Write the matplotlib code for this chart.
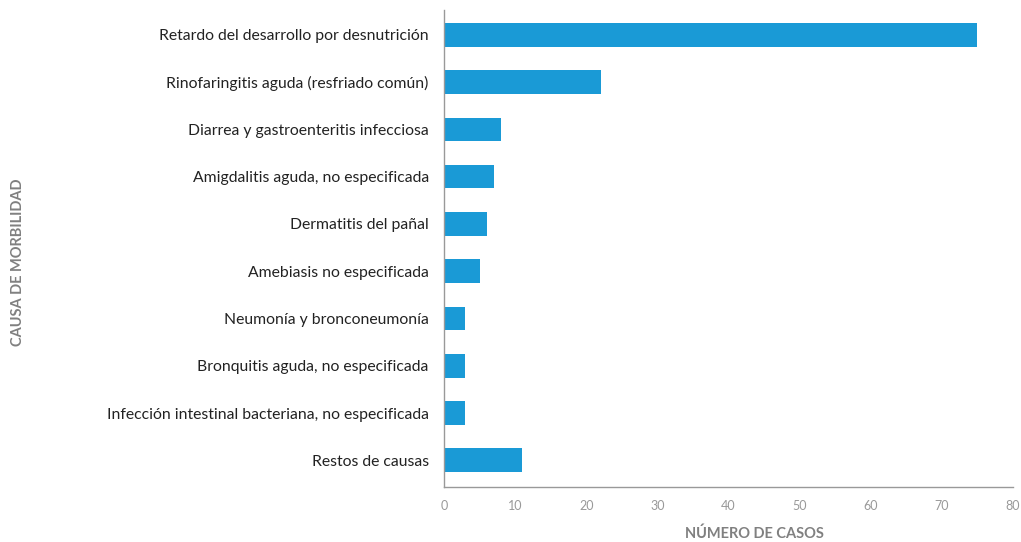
import matplotlib.pyplot as plt

causas = [
    "Retardo del desarrollo por desnutrición",
    "Rinofaringitis aguda (resfriado común)",
    "Diarrea y gastroenteritis infecciosa",
    "Amigdalitis aguda, no especificada",
    "Dermatitis del pañal",
    "Amebiasis no especificada",
    "Neumonía y bronconeumonía",
    "Bronquitis aguda, no especificada",
    "Infección intestinal bacteriana, no especificada",
    "Restos de causas",
]
casos = [75, 22, 8, 7, 6, 5, 3, 3, 3, 11]
x_ticks = [0, 10, 20, 30, 40, 50, 60, 70, 80]

plt.rcParams['font.family'] = ['Lato', 'DejaVu Sans']

fig = plt.figure(figsize=(10.21, 5.42), dpi=100)
ax = fig.add_axes([0.435, 0.101, 0.557, 0.881])

ax.barh(range(len(causas)), casos, height=0.5, color="#1a9ad6")

ax.set_ylim(len(causas) - 0.43, -0.53)
ax.set_xlim(0, 80)
ax.set_xticks(x_ticks)
ax.set_yticks(range(len(causas)))
ax.set_yticklabels(causas, fontsize=11.3, color="#222222")

ax.tick_params(axis="x", length=0, pad=9, labelsize=9, labelcolor="#999999")
ax.tick_params(axis="y", length=0, pad=11)

for side in ["top", "right"]:
    ax.spines[side].set_visible(False)
for side in ["left", "bottom"]:
    ax.spines[side].set_color("#999999")
    ax.spines[side].set_linewidth(1)

fig.text(0.739, 0.015, "NÚMERO DE CASOS", ha="center", va="center",
         fontsize=10.5, color="#808080", fontweight="bold")
fig.text(0.0176, 0.517, "CAUSA DE MORBILIDAD", rotation=90, ha="center",
         va="center", fontsize=10.5, color="#808080", fontweight="bold")

fig.savefig("out.png", dpi=100)
